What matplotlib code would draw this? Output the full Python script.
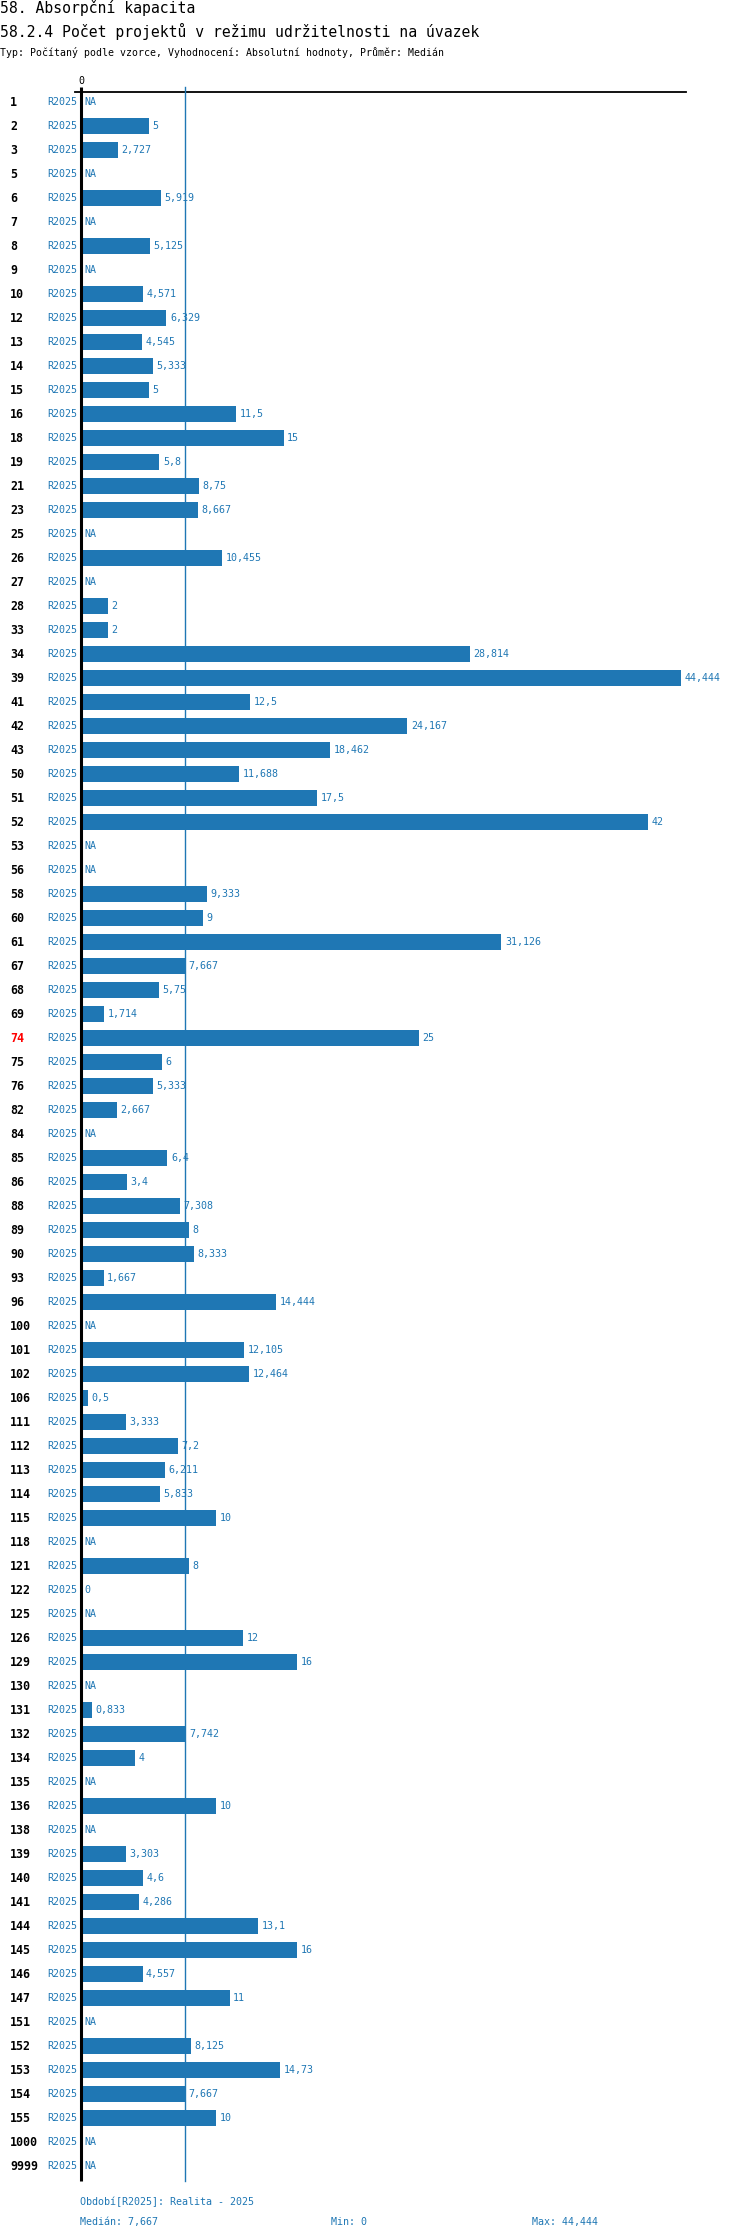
"""
58.2.4 Počet projektů v režimu udržitelnosti na úvazek
horizontal bars per item, median line, NA for missing values
"""

import numpy as np
import matplotlib.pyplot as plt
from matplotlib.transforms import blended_transform_factory, offset_copy

# data
codes = ['1', '2', '3', '5', '6', '7', '8', '9', '10', '12', '13', '14', '15', '16', '18', '19',
         '21', '23', '25', '26', '27', '28', '33', '34', '39', '41', '42', '43', '50', '51', '52',
         '53', '56', '58', '60', '61', '67', '68', '69', '74', '75', '76', '82', '84', '85', '86',
         '88', '89', '90', '93', '96', '100', '101', '102', '106', '111', '112', '113', '114',
         '115', '118', '121', '122', '125', '126', '129', '130', '131', '132', '134', '135',
         '136', '138', '139', '140', '141', '144', '145', '146', '147', '151', '152', '153',
         '154', '155', '1000', '9999']
NA = np.nan
values = [NA, 5, 2.727, NA, 5.919, NA, 5.125, NA, 4.571, 6.329, 4.545, 5.333, 5, 11.5, 15, 5.8,
          8.75, 8.667, NA, 10.455, NA, 2, 2, 28.814, 44.444, 12.5, 24.167, 18.462, 11.688, 17.5, 42,
          NA, NA, 9.333, 9, 31.126, 7.667, 5.75, 1.714, 25, 6, 5.333, 2.667, NA, 6.4, 3.4,
          7.308, 8, 8.333, 1.667, 14.444, NA, 12.105, 12.464, 0.5, 3.333, 7.2, 6.211, 5.833,
          10, NA, 8, 0, NA, 12, 16, NA, 0.833, 7.742, 4, NA,
          10, NA, 3.303, 4.6, 4.286, 13.1, 16, 4.557, 11, NA, 8.125, 14.73,
          7.667, 10, NA, NA]
period = 'R2025'
highlight = '74'

blue = '#1f77b4'
mono = 'DejaVu Sans Mono'
plt.rcParams['font.family'] = mono

def fmt(v):
    return f'{v:.3f}'.rstrip('0').rstrip('.').replace('.', ',')

vals = np.array(values, dtype=float)
n = len(codes)
med = np.nanmedian(vals)
vmin = np.nanmin(vals)
vmax = np.nanmax(vals)

W, H = 750, 2240
fig = plt.figure(figsize=(W / 100, H / 100), dpi=100)

# axes: zero at x=81px, 13.5 px per unit; rows every 24 px starting at y=102px
top_px, bot_px = 87, 2181
ax = fig.add_axes([81 / W, 1 - bot_px / H, 605 / W, (bot_px - top_px) / H])
ax.set_xlim(0, 44.8)
ax.set_ylim((bot_px - 102) / 24, (top_px - 102) / 24)
ax.axis('off')

idx = np.arange(n)
ok = ~np.isnan(vals)
ax.barh(idx[ok], vals[ok], height=0.66, color=blue)

# axis lines
ax.plot([0, 0], [(top_px - 102) / 24, (bot_px - 102) / 24], color='black', lw=2.2,
        clip_on=False, solid_capstyle='butt')
ax.plot([-0.45, 44.8], [(92 - 102) / 24] * 2, color='black', lw=1.3, clip_on=False)
ax.plot([med, med], [(top_px - 102) / 24, (bot_px - 102) / 24], color=blue, lw=1,
        clip_on=False)
ax.text(0, (81 - 102) / 24, '0', ha='center', va='center', fontsize=7.2, color='black')

# labels
lab_tr = blended_transform_factory(fig.transFigure, ax.transData)
val_tr = offset_copy(ax.transData, fig=fig, x=3.5, y=0, units='dots')
for i, (c, v) in enumerate(zip(codes, vals)):
    ax.text(10 / W, i, c, transform=lab_tr, ha='left', va='center', fontsize=8.4,
            fontweight='bold', color='red' if c == highlight else 'black')
    ax.text(77.5 / W, i, period, transform=lab_tr, ha='right', va='center', fontsize=7.2,
            color=blue)
    if np.isnan(v):
        ax.text(0, i, 'NA', transform=val_tr, ha='left', va='center', fontsize=7.2, color=blue)
    else:
        ax.text(v, i, fmt(v), transform=val_tr, ha='left', va='center', fontsize=7.2,
                color=blue)

# titles
fig.text(0, 1 - 8 / H, '58. Absorpční kapacita', ha='left', va='center', fontsize=10.6)
fig.text(0, 1 - 31 / H, '58.2.4 Počet projektů v režimu udržitelnosti na úvazek', ha='left',
         va='center', fontsize=10.6)
fig.text(0, 1 - 52 / H, 'Typ: Počítaný podle vzorce, Vyhodnocení: Absolutní hodnoty, Průměr: Medián',
         ha='left', va='center', fontsize=7.1)

# footer
fig.text(80 / W, 1 - 2202 / H, f'Období[{period}]: Realita - 2025', ha='left', va='center',
         fontsize=7.2, color=blue)
fig.text(80 / W, 1 - 2222 / H, f'Medián: {fmt(med)}', ha='left', va='center', fontsize=7.2,
         color=blue)
fig.text(331 / W, 1 - 2222 / H, f'Min: {fmt(vmin)}', ha='left', va='center', fontsize=7.2,
         color=blue)
fig.text(532 / W, 1 - 2222 / H, f'Max: {fmt(vmax)}', ha='left', va='center', fontsize=7.2,
         color=blue)

fig.savefig('out.png', dpi=100)
